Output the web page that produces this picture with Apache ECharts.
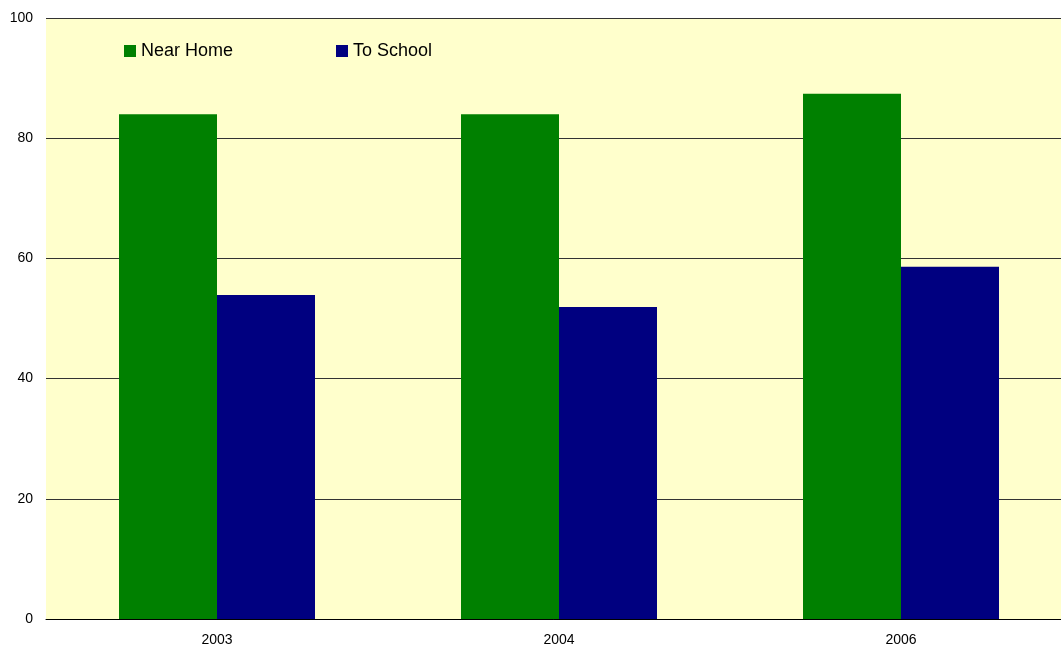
<!DOCTYPE html>
<html>
<head>
<meta charset="utf-8">
<script src="https://cdn.jsdelivr.net/npm/echarts@6/dist/echarts.min.js"></script>
<style>
  html, body { margin: 0; padding: 0; background: #fff; }
  #chart { width: 1061px; height: 650px; }
</style>
</head>
<body>
<div id="chart"></div>
<script>
  var years = ['2003', '2004', '2006'];
  var nearHome = [84.0, 84.0, 87.4];
  var toSchool = [53.9, 51.9, 58.6];
  var yTicks = [0, 20, 40, 60, 80, 100];

  var chart = echarts.init(document.getElementById('chart'));
  chart.setOption({
    animation: false,
    textStyle: { fontFamily: 'Liberation Sans, Arial, sans-serif' },
    legend: [
      {
        data: ['Near Home'],
        left: 119, top: 37,
        itemWidth: 12, itemHeight: 12,
        itemGap: 4,
        icon: 'rect',
        textStyle: { fontSize: 18, color: '#000' }
      },
      {
        data: ['To School'],
        left: 331, top: 37,
        itemWidth: 12, itemHeight: 12,
        icon: 'rect',
        textStyle: { fontSize: 18, color: '#000' }
      }
    ],
    grid: {
      left: 46,
      right: -11,
      top: 18,
      bottom: 31,
      outerBoundsMode: 'none',
      containLabel: false,
      show: true,
      backgroundColor: '#FFFFCC',
      borderWidth: 0
    },
    xAxis: {
      type: 'category',
      data: years,
      axisLine: { show: true, lineStyle: { color: '#000', width: 1 } },
      axisTick: { show: false },
      axisLabel: { fontSize: 14, color: '#000', margin: 14 }
    },
    yAxis: {
      type: 'value',
      min: yTicks[0],
      max: yTicks[yTicks.length - 1],
      interval: 20,
      axisLine: { show: false },
      axisTick: { show: false },
      axisLabel: { fontSize: 14, color: '#000', margin: 13 },
      splitLine: { show: true, lineStyle: { color: '#333', width: 1 } }
    },
    series: [
      {
        name: 'Near Home',
        type: 'bar',
        data: nearHome,
        barWidth: 98,
        barGap: '0%',
        itemStyle: { color: '#008000' }
      },
      {
        name: 'To School',
        type: 'bar',
        data: toSchool,
        barWidth: 98,
        barGap: '0%',
        itemStyle: { color: '#000080' }
      }
    ]
  });
</script>
</body>
</html>
